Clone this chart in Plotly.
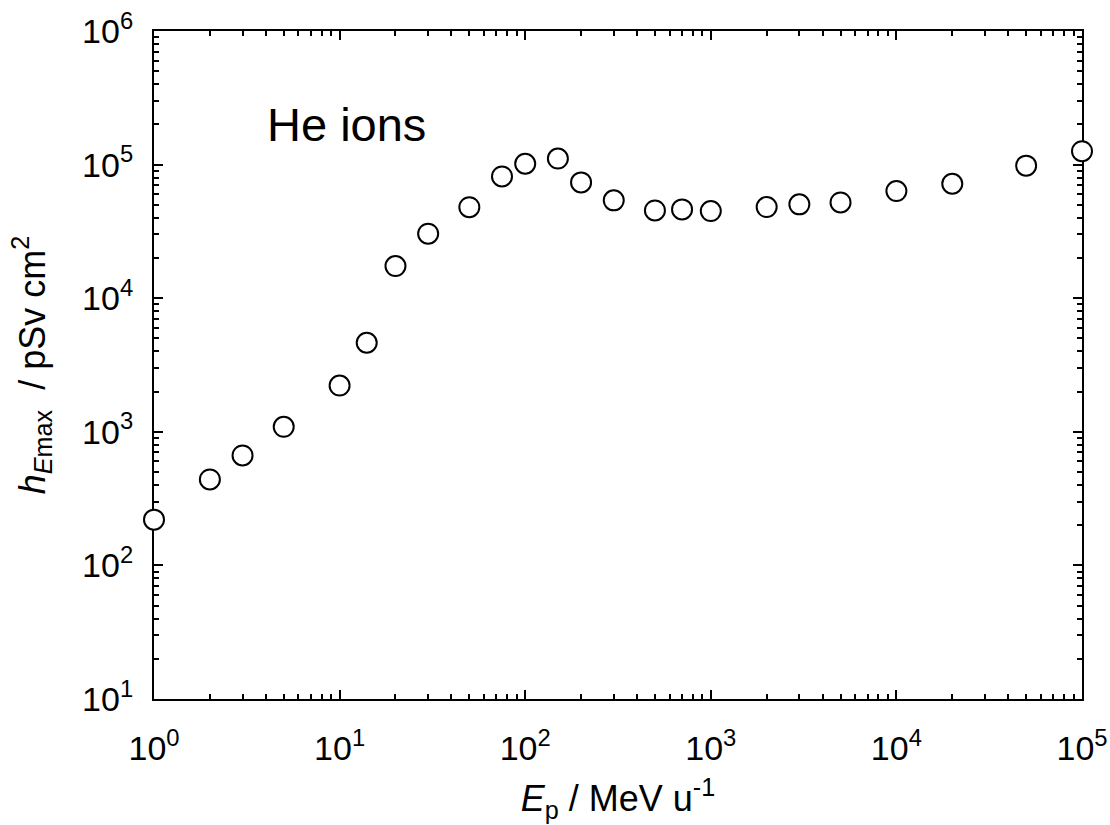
import plotly.graph_objects as go

# Energy per nucleon (MeV/u) and maximum dose conversion coefficient (pSv cm^2)
energy = [1, 2, 3, 5, 10, 14, 20, 30, 50, 75, 100, 150, 200, 300, 500, 700,
          1000, 2000, 3000, 5000, 10000, 20000, 50000, 100000]
h_emax = [220, 440, 665, 1090, 2220, 4640, 17400, 30400, 48000, 81500, 101500,
          111000, 73600, 54000, 45400, 46200, 44900, 48100, 50400, 52100,
          63400, 71900, 98200, 126000]

x_tickvals = [1, 10, 100, 1000, 10000, 100000]
x_ticktext = ["10<sup>0</sup>", "10<sup>1</sup>", "10<sup>2</sup>",
              "10<sup>3</sup>", "10<sup>4</sup>", "10<sup>5</sup>"]
y_tickvals = [10, 100, 1000, 10000, 100000, 1000000]
y_ticktext = ["10<sup>1</sup>", "10<sup>2</sup>", "10<sup>3</sup>",
              "10<sup>4</sup>", "10<sup>5</sup>", "10<sup>6</sup>"]

FONT = "Arial, Liberation Sans, sans-serif"

fig = go.Figure()
fig.add_trace(go.Scatter(
    x=energy, y=h_emax, mode="markers", cliponaxis=False,
    marker=dict(symbol="circle", size=20, color="white",
                line=dict(color="black", width=2)),
    showlegend=False,
))

axis_common = dict(
    type="log",
    automargin=False,
    showgrid=False, zeroline=False,
    showline=True, linecolor="black", linewidth=2,
    mirror="allticks",
    ticks="inside", ticklen=9, tickwidth=1.5, tickcolor="black",
    minor=dict(ticks="inside", ticklen=5, tickwidth=1.5, tickcolor="black",
               dtick="D1", showgrid=False),
    tickfont=dict(family=FONT, size=34, color="black"),
    layer="below traces",
)

fig.update_xaxes(
    **axis_common,
    range=[0, 5],
    tickmode="array", tickvals=x_tickvals, ticktext=x_ticktext,
    ticklabelstandoff=18,
    title=dict(text="<i>E</i><sub>p</sub> / MeV u<sup>-1</sup>",
               font=dict(family=FONT, size=36, color="black"), standoff=20),
)
fig.update_yaxes(
    **axis_common,
    range=[1, 6],
    tickmode="array", tickvals=y_tickvals, ticktext=y_ticktext,
    ticklabelstandoff=12,
    title=dict(text="<i>h</i><sub><i>E</i>max</sub>\u00a0\u00a0/ pSv cm<sup>2</sup>",
               font=dict(family=FONT, size=36, color="black"), standoff=26),
)

fig.add_annotation(
    text="He ions", xref="paper", yref="paper", x=0.12, y=0.86,
    xanchor="left", yanchor="middle", showarrow=False,
    font=dict(family=FONT, size=47, color="black"),
)

fig.update_layout(
    width=1110, height=825,
    margin=dict(l=154, r=28, t=31, b=126),
    paper_bgcolor="white", plot_bgcolor="white",
)

fig.write_html("out.html")
